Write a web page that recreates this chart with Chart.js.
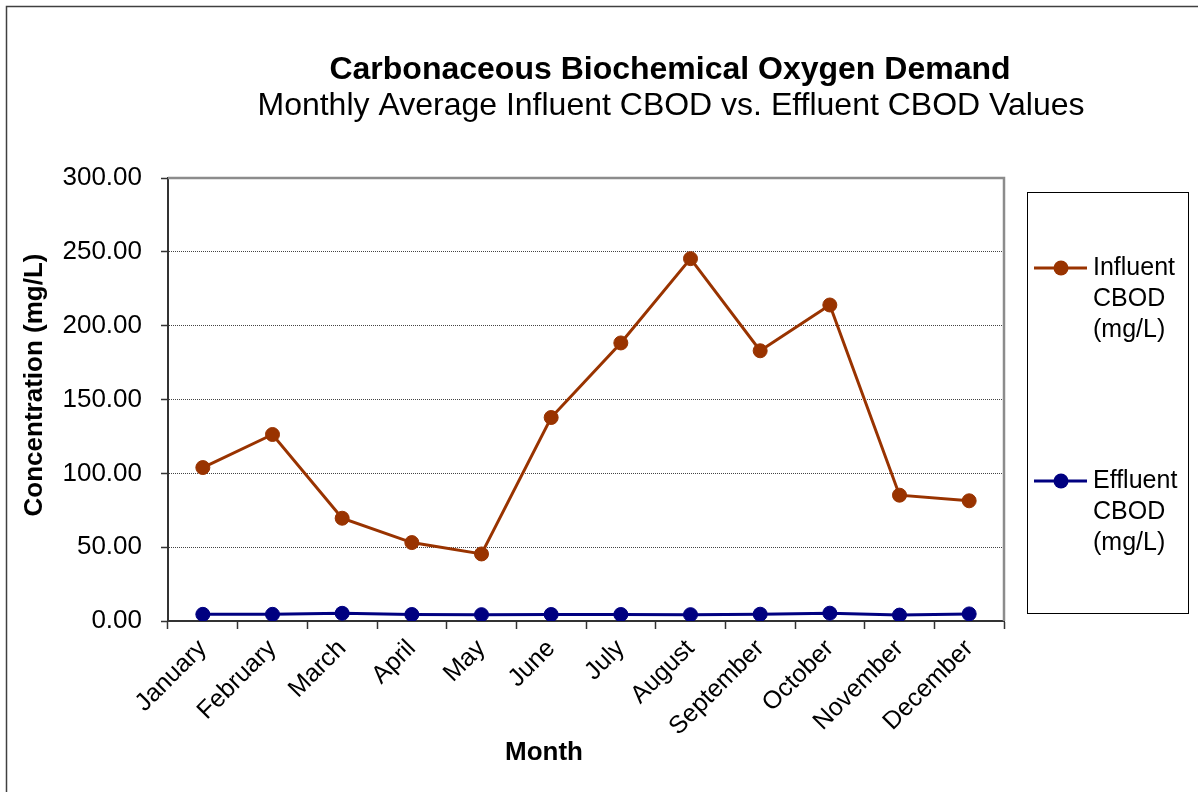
<!DOCTYPE html>
<html lang="en">
<head>
    <meta charset="UTF-8">
    <title>Carbonaceous Biochemical Oxygen Demand</title>
    <script src="https://cdn.jsdelivr.net/npm/chart.js"></script>
    <style>
        html, body {
            margin: 0;
            padding: 0;
            background: #ffffff;
            overflow: hidden;
        }
        .wrap {
            position: relative;
            width: 1198px;
            height: 792px;
        }
    </style>
</head>
<body>
    <div class="wrap">
        <canvas id="cbodChart" width="1198" height="792"></canvas>
    </div>

    <script>
        // chart data
        const months = ['January', 'February', 'March', 'April', 'May', 'June',
                        'July', 'August', 'September', 'October', 'November', 'December'];
        const influent = [103.9, 126.3, 69.6, 53.1, 45.4, 137.8, 188.3, 245.4, 183.0, 214.0, 85.2, 81.4];
        const effluent = [4.5, 4.5, 5.2, 4.4, 4.3, 4.4, 4.4, 4.3, 4.6, 5.3, 4.0, 4.8];
        const yMin = 0;
        const yMax = 300;
        const yStep = 50;

        const titleText = 'Carbonaceous Biochemical Oxygen Demand';
        const subtitleText = 'Monthly Average Influent CBOD vs. Effluent CBOD Values';
        const xTitle = 'Month';
        const yTitle = 'Concentration (mg/L)';

        const FONT = '"Liberation Sans", Arial, sans-serif';

        // titles, frames, axis titles and legend drawn on the canvas
        const decorPlugin = {
            id: 'decor',
            beforeDraw(chart) {
                const ctx = chart.ctx;
                ctx.save();
                ctx.fillStyle = '#ffffff';
                ctx.fillRect(0, 0, chart.width, chart.height);
                // outer frame
                ctx.strokeStyle = '#404040';
                ctx.lineWidth = 1.5;
                ctx.strokeRect(6.5, 6.5, 2000, 2000);
                ctx.restore();
            },
            beforeDatasetsDraw(chart) {
                const ctx = chart.ctx;
                const a = chart.chartArea;
                ctx.save();
                ctx.strokeStyle = '#8c8c8c';
                ctx.lineWidth = 2.5;
                ctx.beginPath();
                ctx.moveTo(a.left, a.top);
                ctx.lineTo(a.right, a.top);
                ctx.lineTo(a.right, a.bottom);
                ctx.stroke();
                ctx.restore();
            },
            afterDraw(chart) {
                const ctx = chart.ctx;
                ctx.save();
                ctx.fillStyle = '#000000';
                ctx.textAlign = 'center';
                ctx.textBaseline = 'alphabetic';
                ctx.font = 'bold 32px ' + FONT;
                ctx.fillText(titleText, 670, 79);
                ctx.font = '32px ' + FONT;
                ctx.fillText(subtitleText, 671, 115);

                // axis titles
                ctx.font = 'bold 26px ' + FONT;
                ctx.fillText(xTitle, 544, 760);
                ctx.save();
                ctx.translate(42, 385);
                ctx.rotate(-Math.PI / 2);
                ctx.fillText(yTitle, 0, 0);
                ctx.restore();

                // legend
                ctx.strokeStyle = '#000000';
                ctx.lineWidth = 1;
                ctx.strokeRect(1027.5, 192.5, 161, 421);
                const rows = [268, 481];
                ctx.textAlign = 'left';
                ctx.textBaseline = 'middle';
                ctx.font = '25px ' + FONT;
                chart.data.datasets.forEach((ds, i) => {
                    const y = rows[i];
                    ctx.strokeStyle = ds.borderColor;
                    ctx.lineWidth = 3;
                    ctx.beginPath();
                    ctx.moveTo(1034, y);
                    ctx.lineTo(1087, y);
                    ctx.stroke();
                    ctx.fillStyle = ds.pointBackgroundColor;
                    ctx.beginPath();
                    ctx.arc(1061, y, 7.5, 0, Math.PI * 2);
                    ctx.fill();
                    ctx.fillStyle = '#000000';
                    ds.label.split(' ').forEach((word, j) => {
                        ctx.fillText(word, 1093, y + j * 31);
                    });
                });
                ctx.restore();
            }
        };

        new Chart(document.getElementById('cbodChart'), {
            type: 'line',
            data: {
                labels: months,
                datasets: [{
                    label: 'Influent CBOD (mg/L)',
                    data: influent,
                    borderColor: '#993300',
                    backgroundColor: '#993300',
                    pointBackgroundColor: '#993300',
                    pointBorderColor: '#993300',
                    borderWidth: 3,
                    pointRadius: 7,
                    pointBorderWidth: 1,
                    tension: 0
                }, {
                    label: 'Effluent CBOD (mg/L)',
                    data: effluent,
                    borderColor: '#000080',
                    backgroundColor: '#000080',
                    pointBackgroundColor: '#000080',
                    pointBorderColor: '#000080',
                    borderWidth: 3,
                    pointRadius: 7,
                    pointBorderWidth: 1,
                    tension: 0
                }]
            },
            options: {
                responsive: false,
                animation: false,
                layout: {
                    padding: { left: 0, top: 178, right: 194, bottom: 0 }
                },
                plugins: {
                    legend: { display: false },
                    title: { display: false },
                    tooltip: { enabled: false }
                },
                scales: {
                    x: {
                        offset: true,
                        afterFit(scale) { scale.height = 171; },
                        border: { display: true, color: '#333333', width: 2 },
                        grid: {
                            offset: true,
                            drawOnChartArea: false,
                            drawTicks: true,
                            tickLength: 8,
                            tickColor: '#333333',
                            tickWidth: 1.5
                        },
                        ticks: {
                            autoSkip: false,
                            minRotation: 45,
                            maxRotation: 45,
                            padding: 5,
                            color: '#000000',
                            font: { family: FONT, size: 25 }
                        }
                    },
                    y: {
                        min: yMin,
                        max: yMax,
                        afterFit(scale) { scale.width = 168; },
                        border: { display: true, color: '#333333', width: 2, dash: [1, 1] },
                        grid: {
                            color: (c) => (c.tick && (c.tick.value === yMin || c.tick.value === yMax)) ? 'rgba(0,0,0,0)' : '#444444',
                            lineWidth: 1,
                            tickLength: 7,
                            tickColor: '#333333',
                            tickWidth: 1.5,
                            tickBorderDash: []
                        },
                        ticks: {
                            stepSize: yStep,
                            padding: 19,
                            color: '#000000',
                            font: { family: FONT, size: 26 },
                            callback: (v) => Number(v).toFixed(2)
                        }
                    }
                }
            },
            plugins: [decorPlugin]
        });
    </script>
</body>
</html>
